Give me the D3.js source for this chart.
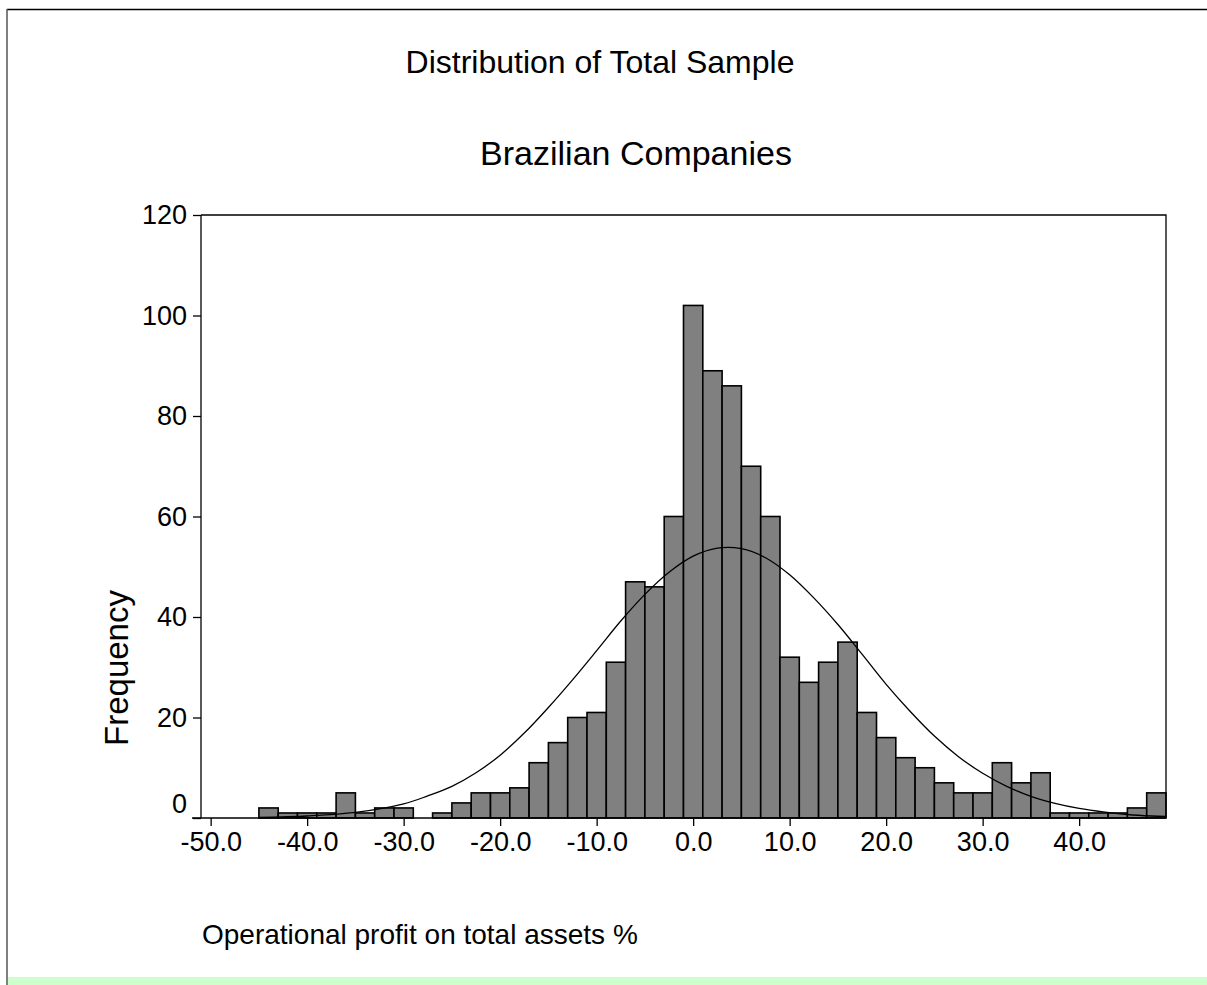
<!DOCTYPE html>
<html>
<head>
    <meta charset="utf-8">
    <title>Distribution of Total Sample</title>
    <script src="https://d3js.org/d3.v7.min.js"></script>
    <style>
        body { margin: 0; background: #fff; }
        svg { display: block; font-family: "Liberation Sans", Arial, sans-serif; }
    </style>
</head>
<body>
<svg width="1207" height="985"></svg>
<script>
    // histogram bins (left edge, width 2) and counts
    var binLeft = [-45, -43, -41, -39, -37, -35, -33, -31, -29, -27,
        -25, -23, -21, -19, -17, -15, -13, -11, -9, -7, -5, -3, -1,
        1, 3, 5, 7, 9, 11, 13, 15, 17, 19, 21, 23, 25, 27, 29, 31,
        33, 35, 37, 39, 41, 43, 45, 47];
    var counts = [2, 1, 1, 1, 5, 1, 2, 2, 0, 1,
        3, 5, 5, 6, 11, 15, 20, 21, 31, 47, 46, 60, 102,
        89, 86, 70, 60, 32, 27, 31, 35, 21, 16, 12, 10, 7, 5, 5, 11,
        7, 9, 1, 1, 1, 1, 2, 5];
    var binWidth = 2;

    // fitted curve
    var curveX = [-45, -40, -35, -30, -27.5, -25, -22.5, -20, -17.5, -15, -12.5, -10,
        -7.5, -5, -2.5, 0, 2.5, 5, 7.5, 10, 12.5, 15, 17.5, 20, 22.5, 25, 27.5,
        30, 32.5, 35, 37.5, 40, 42.5, 45, 47.5, 49];
    var curveY = [0.1, 0.4, 1.1, 2.8, 4.4, 6.3, 9.0, 12.5, 16.9, 22.0, 27.5, 33.3,
        39.2, 44.5, 48.9, 52.1, 53.7, 53.6, 51.8, 48.4, 43.8, 38.5, 32.6, 26.6, 21.2, 16.3, 12.2,
        8.9, 6.3, 4.3, 2.9, 1.9, 1.2, 0.7, 0.4, 0.3];

    var xTicks = [-50, -40, -30, -20, -10, 0, 10, 20, 30, 40];
    var yTicks = [0, 20, 40, 60, 80, 100, 120];

    var svg = d3.select("svg");

    // page frame
    svg.append("rect").attr("x", 8).attr("y", 977).attr("width", 1199).attr("height", 8)
        .attr("fill", "#ccffcc");
    svg.append("line").attr("x1", 7).attr("x2", 1207).attr("y1", 9.5).attr("y2", 9.5)
        .attr("stroke", "#000").attr("stroke-width", 1.5);
    svg.append("line").attr("x1", 7).attr("x2", 7).attr("y1", 9).attr("y2", 985)
        .attr("stroke", "#555").attr("stroke-width", 1.5);

    var plotLeft = 201, plotRight = 1166, plotTop = 215, plotBottom = 818;

    var x = d3.scaleLinear().domain([-51, 49]).range([plotLeft, plotRight]);
    var y = d3.scaleLinear().domain([0, 120]).range([plotBottom, plotTop]);

    // titles
    svg.append("text").attr("x", 600).attr("y", 73).attr("text-anchor", "middle")
        .style("font-size", "32px").text("Distribution of Total Sample");
    svg.append("text").attr("x", 636).attr("y", 165).attr("text-anchor", "middle")
        .style("font-size", "34px").text("Brazilian Companies");

    // bars
    svg.append("g").selectAll("rect")
        .data(binLeft)
        .enter().append("rect")
        .attr("x", function(d) { return x(d); })
        .attr("y", function(d, i) { return y(counts[i]); })
        .attr("width", function(d) { return x(d + binWidth) - x(d); })
        .attr("height", function(d, i) { return y(0) - y(counts[i]); })
        .attr("fill", function(d, i) { return counts[i] > 0 ? "#808080" : "none"; })
        .attr("stroke", function(d, i) { return counts[i] > 0 ? "#000" : "none"; })
        .attr("stroke-width", 1.6);

    // curve
    var line = d3.line()
        .x(function(d, i) { return x(curveX[i]); })
        .y(function(d) { return y(d); })
        .curve(d3.curveCatmullRom);
    svg.append("path").datum(curveY)
        .attr("d", line)
        .attr("fill", "none")
        .attr("stroke", "#000")
        .attr("stroke-width", 1.3);

    // plot box (top, right)
    svg.append("path")
        .attr("d", "M" + plotLeft + "," + plotTop + "H" + plotRight + "V" + plotBottom)
        .attr("fill", "none").attr("stroke", "#000").attr("stroke-width", 1.3);

    // axes
    var fmtX = function(d) { return d3.format(".1f")(d).replace("\u2212", "-"); };
    var xAxis = svg.append("g")
        .attr("transform", "translate(0," + plotBottom + ")")
        .call(d3.axisBottom(x).tickValues(xTicks).tickFormat(fmtX)
            .tickSize(8).tickSizeOuter(0).tickPadding(6));
    xAxis.select(".domain").attr("d", "M" + (plotLeft - 9) + ",0H" + plotRight);

    var yAxis = svg.append("g")
        .attr("transform", "translate(" + plotLeft + ",0)")
        .call(d3.axisLeft(y).tickValues(yTicks).tickSize(8).tickSizeOuter(0).tickPadding(6));
    yAxis.select(".domain").attr("d", "M0," + plotTop + "V" + plotBottom);

    svg.selectAll(".tick text").style("font-size", "27px")
        .style("font-family", "\"Liberation Sans\", Arial, sans-serif").attr("fill", "#000");
    svg.selectAll(".domain, .tick line").attr("stroke", "#000").attr("stroke-width", 1.3);
    yAxis.selectAll(".tick").filter(function(d) { return d === 0; })
        .select("text").attr("dy", "-0.2em");

    // axis titles
    svg.append("text")
        .attr("transform", "translate(128,668) rotate(-90)")
        .attr("text-anchor", "middle")
        .style("font-size", "33px")
        .text("Frequency");
    svg.append("text").attr("x", 202).attr("y", 944)
        .style("font-size", "28px").text("Operational profit on total assets %");
</script>
</body>
</html>
